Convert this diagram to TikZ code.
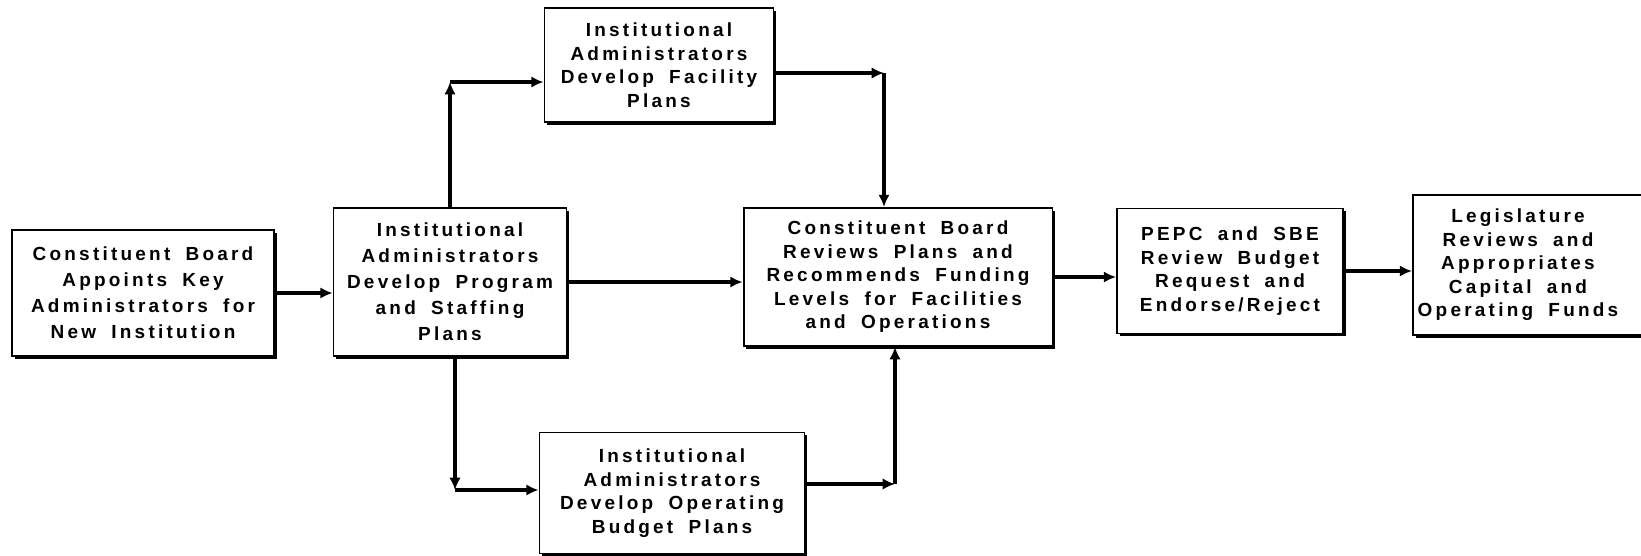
\documentclass[tikz,border=0pt]{standalone}
\usepackage{fontspec}
\setmainfont{Liberation Sans}[LetterSpace=17, WordSpace=1.8]
\usetikzlibrary{arrows.meta,shadows}

\tikzset{
  stepbox/.style={draw, line width=1.1pt, fill=white, align=center, inner sep=0pt,
    font=\bfseries\fontsize{10.8}{13.4}\selectfont,
    drop shadow={shadow xshift=1.6pt, shadow yshift=-1.6pt, opacity=1, fill=black}},
  looselines/.style={font=\bfseries\fontsize{10.8}{14.8}\selectfont},
  flow/.style={line width=2pt, -{Latex[length=7pt,width=6.5pt]}},
}

\begin{document}
\begin{tikzpicture}[x=0.02cm, y=-0.02cm]
  \useasboundingbox (0,0) rectangle (1641,555);
  % boxes, left to right
  \node[stepbox, looselines, minimum width=5.24cm, minimum height=2.52cm] (appoint) at (143,293)
    {Constituent Board\\Appoints Key\\Administrators for\\New Institution};
  \node[stepbox, looselines, minimum width=4.66cm, minimum height=2.96cm] (prog) at (450,282)
    {Institutional\\Administrators\\Develop Program\\and Staffing\\Plans};
  \node[stepbox, minimum width=4.58cm, minimum height=2.28cm] (facil) at (659,65)
    {Institutional\\Administrators\\Develop Facility\\Plans};
  \node[stepbox, minimum width=5.3cm, minimum height=2.42cm] (budget) at (672,493)
    {Institutional\\Administrators\\Develop Operating\\Budget Plans};
  \node[stepbox, minimum width=6.18cm, minimum height=2.76cm] (review) at (898,277)
    {Constituent Board\\Reviews Plans and\\Recommends Funding\\Levels for Facilities\\and Operations};
  \node[stepbox, minimum width=4.52cm, minimum height=2.5cm] (pepc) at (1230,271)
    {PEPC and SBE\\Review Budget\\Request and\\Endorse/Reject};
  % last box runs off the right edge, text sits left of centre
  \node[stepbox, minimum width=4.8cm, minimum height=2.8cm] (legis) at (1533,265)
    {\begin{tabular}{@{}c@{}}Legislature\\Reviews and\\Appropriates\\Capital and\\Operating Funds\end{tabular}\hspace{0.6cm}};

  % corners of the side branches
  \coordinate (upturn) at (450,82);
  \coordinate (topturn) at (884,73);
  \coordinate (downturn) at (455,490);
  \coordinate (botturn) at (895,484);

  % straight flow
  \draw[flow] (appoint.east) -- (appoint.east -| prog.west);
  \draw[flow] (prog.east) -- (prog.east -| review.west);
  \draw[flow] (review.east) -- (review.east -| pepc.west);
  \draw[flow] (pepc.east) -- (pepc.east -| legis.west);

  % facility branch
  \draw[flow] (upturn |- prog.north) -- (upturn);
  \draw[flow] (upturn) -- (upturn -| facil.west);
  \draw[flow] (facil.east |- topturn) -- (topturn);
  \draw[flow] (topturn) -- (topturn |- review.north);

  % budget branch
  \draw[flow] (downturn |- prog.south) -- (downturn);
  \draw[flow] (downturn) -- (downturn -| budget.west);
  \draw[flow] (budget.east |- botturn) -- (botturn);
  \draw[flow] (botturn) -- (botturn |- review.south);
\end{tikzpicture}
\end{document}
